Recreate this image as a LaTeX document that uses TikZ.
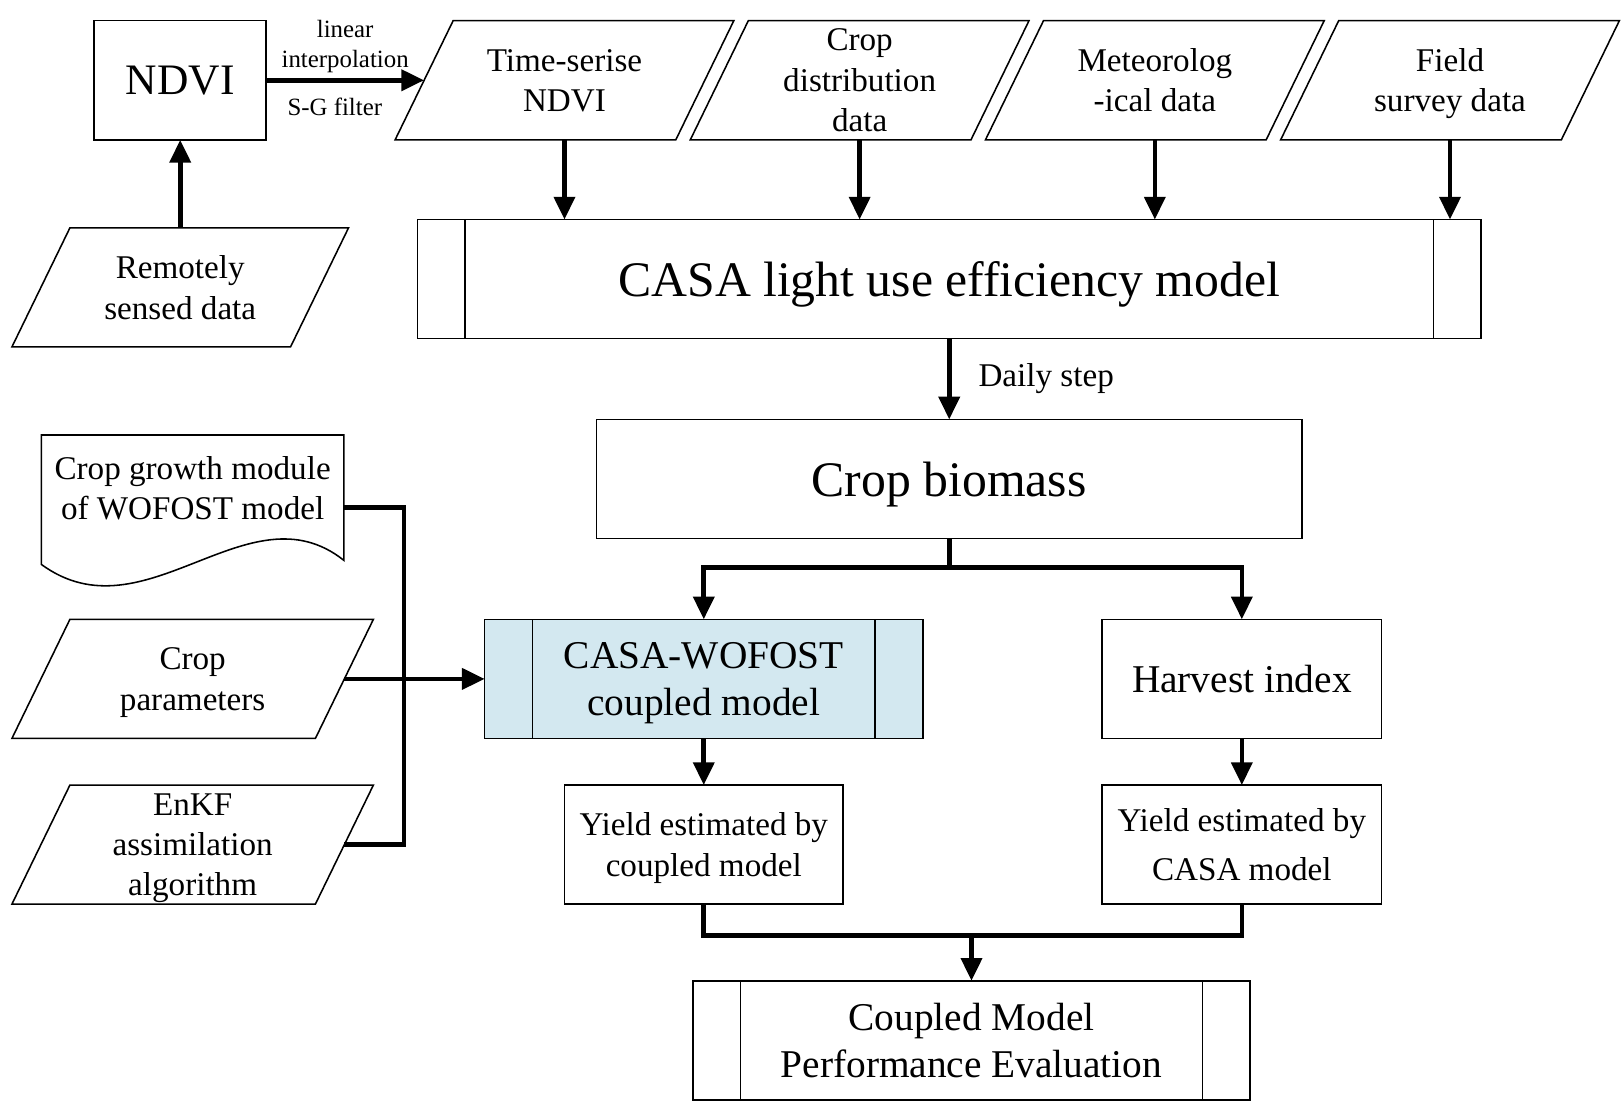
\documentclass[tikz,border=0pt]{standalone}
\usepackage{fontspec}
\setmainfont{Liberation Serif}
\usepackage{tikz}
\usetikzlibrary{arrows.meta}

\definecolor{casablue}{RGB}{211,232,240}
\newcommand{\fsmall}{\fontsize{24}{29}\selectfont}
\newcommand{\fnorm}{\fontsize{32}{39}\selectfont}
\newcommand{\fmed}{\fontsize{38}{46}\selectfont}
\newcommand{\fbig}{\fontsize{48}{58}\selectfont}
\newcommand{\fndvi}{\fontsize{42}{50}\selectfont}

\begin{document}
\begin{tikzpicture}[x=1pt,y=-1pt,
		box/.style={line width=1.5pt},
		proc/.style={draw, line width=1.5pt, outer sep=0pt, inner sep=2pt, minimum height=115pt, text depth=0pt, align=center, font=\fnorm},
		datain/.style={outer sep=0pt, inner sep=2pt, minimum height=115pt, text depth=0pt, align=center, font=\fnorm},
		conn/.style={line width=4.5pt},
		arr/.style={conn, -{Triangle[length=22pt,width=20pt]}},
		lbl/.style={font=\fsmall, align=center, inner sep=2pt}]

		\useasboundingbox (0,0) rectangle (1568,1078);

		% Top row: input data
		\node[proc, minimum width=166pt, font=\fndvi] (ndvi) at (174,77.5) {NDVI};
		\node[datain, minimum width=271pt] (ts) at (545,77.5) {Time-serise\\NDVI};
		\node[datain, minimum width=271pt] (cd) at (830,77.5) {Crop\\distribution\\data};
		\node[datain, minimum width=271pt] (met) at (1115,77.5) {Meteorolog\\-ical data};
		\node[datain, minimum width=271pt] (fs) at (1400,77.5) {Field\\survey data};
		\node[datain, minimum width=269pt] (rs) at (174,277.5) {Remotely\\sensed data};

		% Models
		\node[proc, minimum width=1027pt, font=\fbig] (casa) at (916.5,269.5) {CASA light use efficiency model};
		\node[proc, minimum width=681pt, font=\fbig] (bio) at (916.5,462.5) {Crop biomass};
		\node[proc, minimum width=423pt, font=\fmed, fill=casablue] (coupled) at (679.5,655.5) {CASA-WOFOST\\coupled model};
		\node[proc, minimum width=270pt, font=\fmed] (hi) at (1199,655.5) {Harvest index};
		\node[proc, minimum width=269pt] (y1) at (679.5,815.5) {Yield estimated by\\coupled model};
		\node[proc, minimum width=270pt] (y2) at (1199,815.5) {Yield estimated by\\[9pt]CASA model};
		\node[proc, minimum width=538pt, font=\fmed] (eval) at (938,1004.5) {Coupled Model\\Performance Evaluation};

		% Left inputs
		\node[datain, minimum width=292pt, minimum height=102pt] (doc) at (186,471) {Crop growth module\\of WOFOST model};
		\node[datain, minimum width=293pt] (cp) at (186,655.5) {Crop\\parameters};
		\node[datain, minimum width=293pt] (enkf) at (186,815.5) {EnKF\\assimilation\\algorithm};

		% Parallelograms
		\foreach \n in {ts,cd,met,fs,rs,cp,enkf}
			\draw[box] ([xshift=28pt]\n.north west) -- ([xshift=28pt]\n.north east)
				-- ([xshift=-28pt]\n.south east) -- ([xshift=-28pt]\n.south west) -- cycle;

		% Side bars
		\foreach \n in {casa,coupled,eval} {
			\draw[box] ([xshift=46pt]\n.north west) -- ([xshift=46pt]\n.south west);
			\draw[box] ([xshift=-46pt]\n.north east) -- ([xshift=-46pt]\n.south east);
		}

		% Document shape
		\draw[box] (doc.north west) -- (doc.north east) -- (332,541)
			.. controls (240,468) and (140,618) .. (40,545) -- cycle;

		% Arrows
		\draw[arr] (rs.north) -- (ndvi.south);
		\draw[arr] (ndvi.east) -- node[lbl, above=3pt] (interp) {linear\\interpolation}
			node[lbl, below=13pt, xshift=-10pt] (sg) {S-G filter} (ts.west);
		\foreach \n in {ts,cd,met,fs}
			\draw[arr] (\n.south) -- (\n.south |- casa.north);
		\draw[arr] (casa.south) -- node[lbl, font=\fnorm, right=24pt] (daily) {Daily step} (bio.north);

		\coordinate (split) at (916.5,548);
		\draw[conn] (bio.south) -- (split);
		\draw[arr] (split) -| (coupled.north);
		\draw[arr] (split) -| (hi.north);

		\coordinate (join) at (390,655.5);
		\draw[conn] ([yshift=-19pt]doc.east) -| (join) |- (enkf.east);
		\draw[arr] (cp.east) -- (coupled.west);

		\draw[arr] (coupled.south) -- (y1.north);
		\draw[arr] (hi.south) -- (y2.north);

		\coordinate (merge) at (938,903);
		\draw[conn] (y1.south) |- (merge);
		\draw[conn] (y2.south) |- (merge);
		\draw[arr] (merge) -- (eval.north);

	\end{tikzpicture}
\end{document}
